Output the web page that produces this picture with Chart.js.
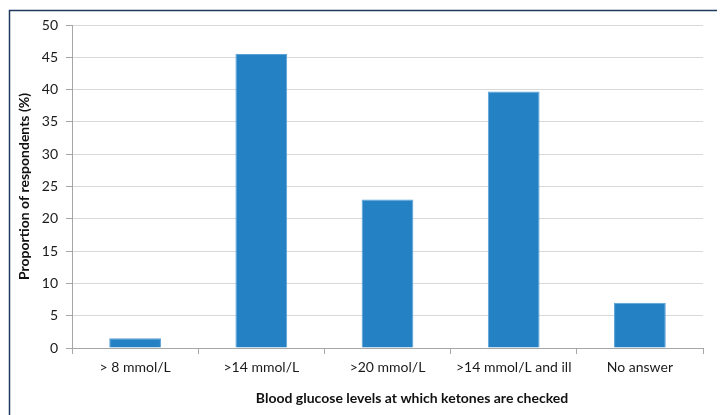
<!DOCTYPE html>
<html>
<head>
<meta charset="utf-8">
<script src="https://cdn.jsdelivr.net/npm/chart.js@4/dist/chart.umd.min.js"></script>
<style>
html,body{margin:0;padding:0;background:#fff;}
#wrap{width:720px;height:415px;position:relative;}
</style>
</head>
<body>
<div id="wrap"><canvas id="c" width="720" height="415"></canvas></div>
<script>
const categories = ["> 8 mmol/L", ">14 mmol/L", ">20 mmol/L", ">14 mmol/L and ill", "No answer"];
const proportions = [1.5, 45.5, 23.0, 39.7, 7.0];
const yTicks = [0, 5, 10, 15, 20, 25, 30, 35, 40, 45, 50];
const xTitle = "Blood glucose levels at which ketones are checked";
const yTitle = "Proportion of respondents (%)";

const FONT = "Lato, 'Open Sans', sans-serif";

const framePlugin = {
  id: 'frame',
  afterDraw(chart) {
    const ctx = chart.ctx;
    ctx.save();
    ctx.strokeStyle = '#1f3a5f';
    ctx.lineWidth = 1.5;
    ctx.beginPath();
    ctx.moveTo(9.5, 420);
    ctx.lineTo(9.5, 10.5);
    ctx.lineTo(717, 10.5);
    ctx.stroke();
    // x-axis title (slightly right of plot centre, as in the original)
    ctx.fillStyle = '#111';
    ctx.font = "bold 14px " + FONT;
    ctx.textAlign = 'center';
    ctx.textBaseline = 'middle';
    ctx.fillText(xTitle, 412, 398);
    ctx.restore();
  }
};

new Chart(document.getElementById('c'), {
  type: 'bar',
  data: {
    labels: categories,
    datasets: [{
      data: proportions,
      backgroundColor: '#2481c4',
      borderColor: '#5aa2d6',
      borderWidth: 1,
      categoryPercentage: 1,
      barPercentage: 0.41
    }]
  },
  options: {
    responsive: false,
    animation: false,
    devicePixelRatio: 1,
    layout: { padding: { left: 16, top: 25, right: 17, bottom: 8 } },
    plugins: { legend: { display: false }, tooltip: { enabled: false } },
    scales: {
      x: {
        offset: true,
        grid: { display: true, drawOnChartArea: false, drawTicks: true, tickLength: 6, color: '#a6a6a6', offset: true },
        border: { color: '#a6a6a6', width: 1 },
        ticks: { color: '#1a1a1a', font: { family: FONT, size: 14 }, padding: 5, maxRotation: 0 },
        title: { display: false },
        afterFit(s) { s.height = 415 - 348 - 8; }
      },
      y: {
        min: 0, max: 50,
        afterBuildTicks(s) { s.ticks = yTicks.map(v => ({ value: v })); },
        grid: { color: '#d9d9d9', lineWidth: 1, drawTicks: true, tickLength: 6, tickColor: '#a6a6a6' },
        border: { color: '#a6a6a6', width: 1 },
        ticks: { color: '#1a1a1a', font: { family: FONT, size: 14 }, padding: 8 },
        title: { display: true, text: yTitle, color: '#111', font: { family: FONT, size: 14, weight: 'bold' }, padding: { top: 0, bottom: 8 } },
        afterFit(s) { s.width = 72 - 16; }
      }
    }
  },
  plugins: [framePlugin]
});
</script>
</body>
</html>
